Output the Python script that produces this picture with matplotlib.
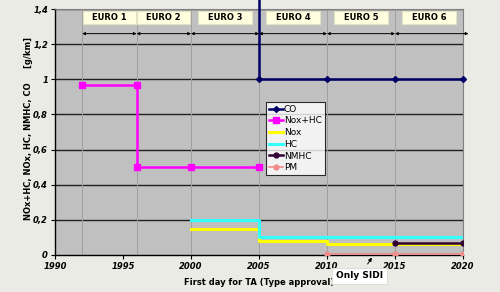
import matplotlib.pyplot as plt
from matplotlib.patches import Rectangle

# data (step series, values in g/km)
co_x = [2005, 2005, 2010, 2015, 2020]
co_y = [2.3, 1.0, 1.0, 1.0, 1.0]
noxhc_x = [1992, 1996, 1996, 2000, 2005]
noxhc_y = [0.97, 0.97, 0.5, 0.5, 0.5]
nox_x = [2000, 2005, 2005, 2010, 2010, 2015, 2020]
nox_y = [0.15, 0.15, 0.08, 0.08, 0.06, 0.06, 0.06]
hc_x = [2000, 2005, 2005, 2010, 2015, 2020]
hc_y = [0.2, 0.2, 0.1, 0.1, 0.1, 0.1]
nmhc_x = [2015, 2020]
nmhc_y = [0.068, 0.068]
pm_x = [2010, 2015, 2020]
pm_y = [0.005, 0.005, 0.005]

stages = ['EURO 1', 'EURO 2', 'EURO 3', 'EURO 4', 'EURO 5', 'EURO 6']
stage_bounds = [1992, 1996, 2000, 2005, 2010, 2015, 2020.4]

yticks = [0, 0.2, 0.4, 0.6, 0.8, 1.0, 1.2, 1.4]
ytick_labels = ['0', '0,2', '0,4', '0,6', '0,8', '1', '1,2', '1,4']
xticks = [1990, 1995, 2000, 2005, 2010, 2015, 2020]

fig = plt.figure(figsize=(5, 2.92), dpi=100)
fig.patch.set_facecolor('#ebebe6')
ax = fig.add_axes([0.11, 0.127, 0.816, 0.842])
ax.set_facecolor('#c0c0c0')

ax.set_xlim(1990, 2020)
ax.set_ylim(0, 1.4)

for y in yticks[1:]:
    ax.axhline(y, color='#202020', lw=1.0, zorder=1)
for x in [1992, 1996, 2000, 2005, 2010, 2015]:
    ax.axvline(x, color='#a0a0a0', lw=0.7, zorder=1)

ax.plot(co_x, co_y, color='#000066', lw=1.8, marker='D', ms=3,
        label='CO', zorder=5, clip_on=False)
ax.plot(noxhc_x, noxhc_y, color='#ff00ff', lw=1.8, marker='s', ms=4,
        label='Nox+HC', zorder=4)
ax.plot(nox_x, nox_y, color='#ffff00', lw=2.2, label='Nox', zorder=3)
ax.plot(hc_x, hc_y, color='#33ffff', lw=2.2, label='HC', zorder=3)
ax.plot(nmhc_x, nmhc_y, color='#330033', lw=1.8, marker='o', ms=3.5,
        label='NMHC', zorder=4)
ax.plot(pm_x, pm_y, color='#f08c8c', lw=1.2, marker='o', ms=3.5,
        label='PM', zorder=4)

# stage boxes and arrows
for i, name in enumerate(stages):
    xc = (stage_bounds[i] + min(stage_bounds[i + 1], 2020)) / 2
    ax.add_patch(Rectangle((xc - 1.95, 1.313), 3.9, 0.075, fc='#ffffe0',
                           ec='#e2e2c4', lw=0.8, zorder=6, clip_on=False))
    ax.text(xc, 1.35, name, ha='center', va='center', fontsize=6,
            fontweight='bold', zorder=7)
for a, b in zip(stage_bounds[:-1], stage_bounds[1:]):
    ax.annotate('', xy=(b, 1.26), xytext=(a, 1.26),
                arrowprops=dict(arrowstyle='<|-|>', color='black', lw=0.7,
                                mutation_scale=4, shrinkA=0, shrinkB=0),
                annotation_clip=False, zorder=6)

ax.annotate('Only SIDI', xy=(2013.3, -0.015), xytext=(2012.4, -0.12),
            ha='center', va='center', fontsize=6.5, fontweight='bold',
            bbox=dict(boxstyle='square,pad=0.4', fc='white', ec='#dddddd', lw=0.8),
            arrowprops=dict(arrowstyle='-|>', color='black', lw=0.7,
                            mutation_scale=5, shrinkA=3, shrinkB=0),
            annotation_clip=False, zorder=7)

ax.set_yticks(yticks)
ax.set_yticklabels(ytick_labels, fontsize=6, fontweight='bold', style='italic')
ax.set_xticks(xticks)
ax.set_xticklabels([str(x) for x in xticks], fontsize=6, fontweight='bold',
                   style='italic')
ax.tick_params(length=3, width=0.8, direction='out', pad=2)

for side in ['left', 'bottom']:
    ax.spines[side].set_color('black')
    ax.spines[side].set_linewidth(1.0)
for side in ['top', 'right']:
    ax.spines[side].set_color('#808080')
    ax.spines[side].set_linewidth(0.8)

ax.set_xlabel('First day for TA (Type approval)', fontsize=6, fontweight='bold',
              labelpad=5)
fig.text(0.058, 0.56, 'NOx+HC, NOx, HC, NMHC, CO     [g/km]', rotation=90,
         ha='center', va='center', fontsize=6, fontweight='bold')

leg = ax.legend(loc='upper left', bbox_to_anchor=(0.517, 0.622), fontsize=6.5,
                frameon=True, fancybox=False, edgecolor='black',
                handlelength=1.6, handletextpad=0.1, labelspacing=0.3,
                borderpad=0.3, borderaxespad=0)
leg.get_frame().set_linewidth(0.8)
leg.set_zorder(8)

fig.savefig('out.png', dpi=100, facecolor=fig.get_facecolor())
